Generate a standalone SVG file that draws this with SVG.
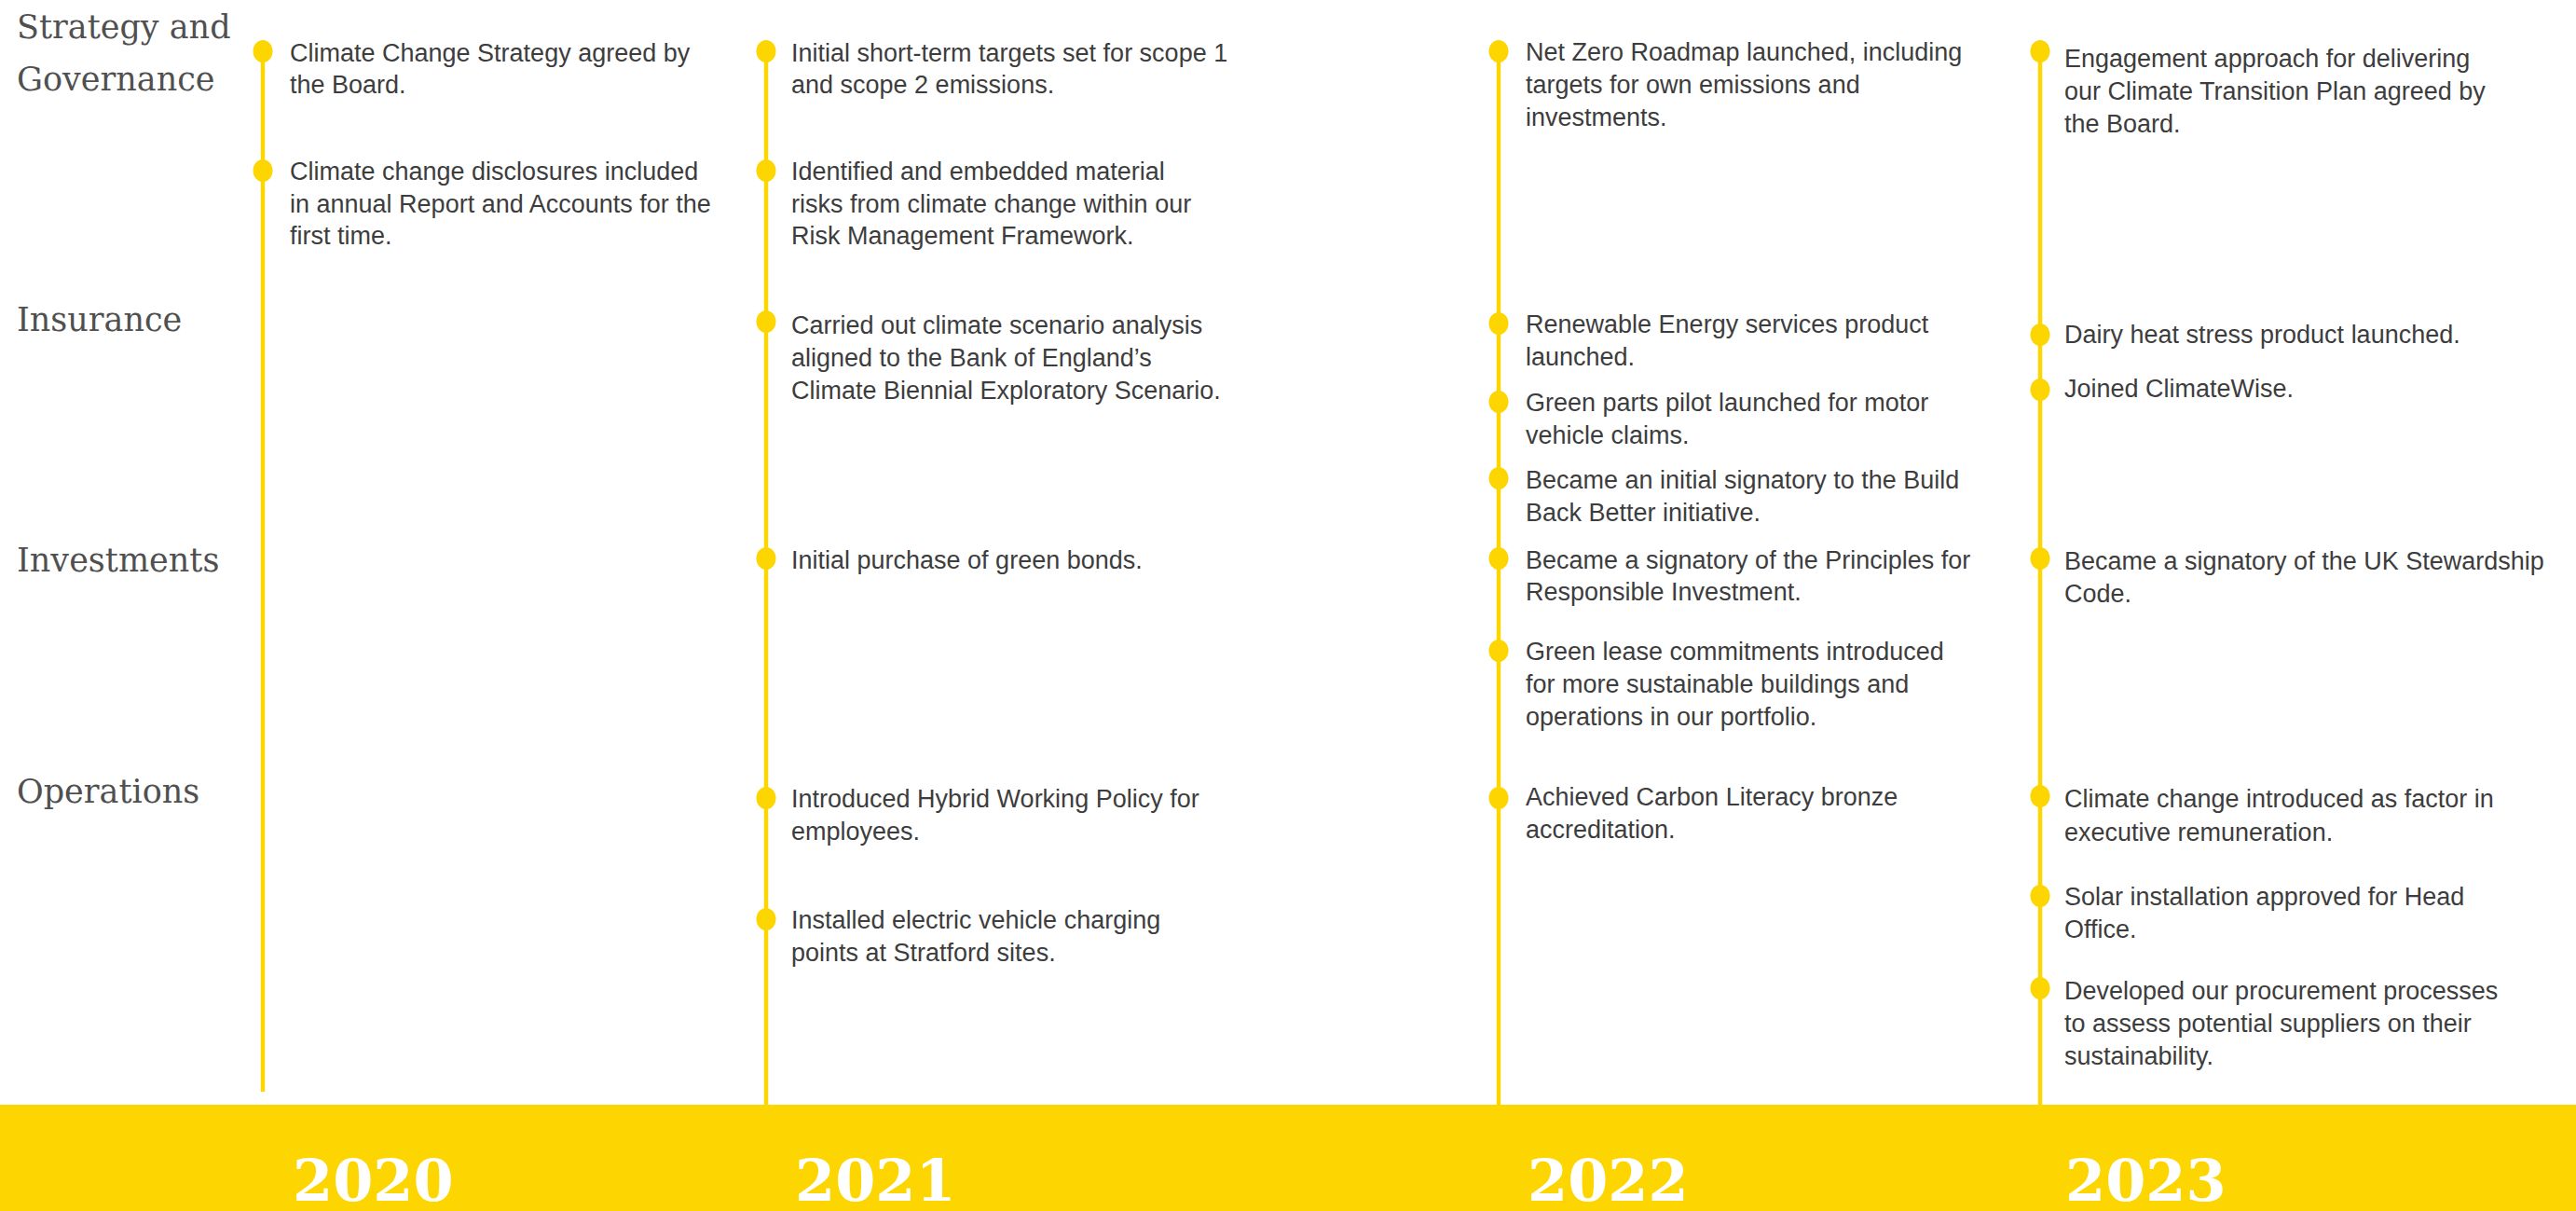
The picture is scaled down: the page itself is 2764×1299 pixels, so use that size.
<svg xmlns="http://www.w3.org/2000/svg" width="2764" height="1299" viewBox="0 0 2764 1299">
<style>
.lbl{font-family:"DejaVu Serif","Liberation Serif",serif;font-size:35px;fill:#505050}
.t{font-family:"Liberation Sans",Arial,sans-serif;font-size:27px;fill:#3d3d3d}
.yr{font-family:"DejaVu Serif","Liberation Serif",serif;font-size:62px;font-weight:bold;fill:#ffffff}
.dot{fill:#FDD500}
.ln{stroke:#FDD500;stroke-width:4.5;fill:none}
</style>
<rect width="2764" height="1299" fill="#ffffff"/>
<rect id="band" x="0" y="1185" width="2764" height="114" fill="#FDD500"/>
<g id="connectors">
<line class="ln" x1="282" y1="45" x2="282" y2="1171"/>
<line class="ln" x1="822" y1="45" x2="822" y2="1185"/>
<line class="ln" x1="1608" y1="45" x2="1608" y2="1185"/>
<line class="ln" x1="2189" y1="45" x2="2189" y2="1185"/>
</g>
<g id="row-labels">
<text class="lbl" x="18" y="41">Strategy and</text>
<text class="lbl" x="18" y="97">Governance</text>
<text class="lbl" x="18" y="355">Insurance</text>
<text class="lbl" x="18" y="613">Investments</text>
<text class="lbl" x="18" y="861">Operations</text>
</g>
<g id="years">
<text class="yr" x="314" y="1288">2020</text>
<text class="yr" x="853" y="1288">2021</text>
<text class="yr" x="1639" y="1288">2022</text>
<text class="yr" x="2216" y="1288">2023</text>
</g>
<g id="e2020-1"><ellipse class="dot" cx="282" cy="55" rx="10.5" ry="12"/><text class="t"><tspan x="311" y="66">Climate Change Strategy agreed by</tspan><tspan x="311" y="100">the Board.</tspan></text></g>
<g id="e2020-2"><ellipse class="dot" cx="282" cy="183" rx="10.5" ry="12"/><text class="t"><tspan x="311" y="193">Climate change disclosures included</tspan><tspan x="311" y="228">in annual Report and Accounts for the</tspan><tspan x="311" y="262">first time.</tspan></text></g>
<g id="e2021-1"><ellipse class="dot" cx="822" cy="55" rx="10.5" ry="12"/><text class="t"><tspan x="849" y="66">Initial short-term targets set for scope 1</tspan><tspan x="849" y="100">and scope 2 emissions.</tspan></text></g>
<g id="e2021-2"><ellipse class="dot" cx="822" cy="183" rx="10.5" ry="12"/><text class="t"><tspan x="849" y="193">Identified and embedded material</tspan><tspan x="849" y="228">risks from climate change within our</tspan><tspan x="849" y="262">Risk Management Framework.</tspan></text></g>
<g id="e2021-3"><ellipse class="dot" cx="822" cy="345" rx="10.5" ry="12"/><text class="t"><tspan x="849" y="358">Carried out climate scenario analysis</tspan><tspan x="849" y="393">aligned to the Bank of England’s</tspan><tspan x="849" y="428">Climate Biennial Exploratory Scenario.</tspan></text></g>
<g id="e2021-4"><ellipse class="dot" cx="822" cy="599" rx="10.5" ry="12"/><text class="t"><tspan x="849" y="610">Initial purchase of green bonds.</tspan></text></g>
<g id="e2021-5"><ellipse class="dot" cx="822" cy="856" rx="10.5" ry="12"/><text class="t"><tspan x="849" y="866">Introduced Hybrid Working Policy for</tspan><tspan x="849" y="901">employees.</tspan></text></g>
<g id="e2021-6"><ellipse class="dot" cx="822" cy="986" rx="10.5" ry="12"/><text class="t"><tspan x="849" y="996">Installed electric vehicle charging</tspan><tspan x="849" y="1031">points at Stratford sites.</tspan></text></g>
<g id="e2022-1"><ellipse class="dot" cx="1608" cy="55" rx="10.5" ry="12"/><text class="t"><tspan x="1637" y="65">Net Zero Roadmap launched, including</tspan><tspan x="1637" y="100">targets for own emissions and</tspan><tspan x="1637" y="135">investments.</tspan></text></g>
<g id="e2022-2"><ellipse class="dot" cx="1608" cy="347" rx="10.5" ry="12"/><text class="t"><tspan x="1637" y="357">Renewable Energy services product</tspan><tspan x="1637" y="392">launched.</tspan></text></g>
<g id="e2022-3"><ellipse class="dot" cx="1608" cy="431" rx="10.5" ry="12"/><text class="t"><tspan x="1637" y="441">Green parts pilot launched for motor</tspan><tspan x="1637" y="476">vehicle claims.</tspan></text></g>
<g id="e2022-4"><ellipse class="dot" cx="1608" cy="513" rx="10.5" ry="12"/><text class="t"><tspan x="1637" y="524">Became an initial signatory to the Build</tspan><tspan x="1637" y="559">Back Better initiative.</tspan></text></g>
<g id="e2022-5"><ellipse class="dot" cx="1608" cy="599" rx="10.5" ry="12"/><text class="t"><tspan x="1637" y="610">Became a signatory of the Principles for</tspan><tspan x="1637" y="644">Responsible Investment.</tspan></text></g>
<g id="e2022-6"><ellipse class="dot" cx="1608" cy="698" rx="10.5" ry="12"/><text class="t"><tspan x="1637" y="708">Green lease commitments introduced</tspan><tspan x="1637" y="743">for more sustainable buildings and</tspan><tspan x="1637" y="778">operations in our portfolio.</tspan></text></g>
<g id="e2022-7"><ellipse class="dot" cx="1608" cy="856" rx="10.5" ry="12"/><text class="t"><tspan x="1637" y="864">Achieved Carbon Literacy bronze</tspan><tspan x="1637" y="899">accreditation.</tspan></text></g>
<g id="e2023-1"><ellipse class="dot" cx="2189" cy="55" rx="10.5" ry="12"/><text class="t"><tspan x="2215" y="72">Engagement approach for delivering</tspan><tspan x="2215" y="107">our Climate Transition Plan agreed by</tspan><tspan x="2215" y="142">the Board.</tspan></text></g>
<g id="e2023-2"><ellipse class="dot" cx="2189" cy="359" rx="10.5" ry="12"/><text class="t"><tspan x="2215" y="368">Dairy heat stress product launched.</tspan></text></g>
<g id="e2023-3"><ellipse class="dot" cx="2189" cy="418" rx="10.5" ry="12"/><text class="t"><tspan x="2215" y="426">Joined ClimateWise.</tspan></text></g>
<g id="e2023-4"><ellipse class="dot" cx="2189" cy="599" rx="10.5" ry="12"/><text class="t"><tspan x="2215" y="611">Became a signatory of the UK Stewardship</tspan><tspan x="2215" y="646">Code.</tspan></text></g>
<g id="e2023-5"><ellipse class="dot" cx="2189" cy="854" rx="10.5" ry="12"/><text class="t"><tspan x="2215" y="866">Climate change introduced as factor in</tspan><tspan x="2215" y="902">executive remuneration.</tspan></text></g>
<g id="e2023-6"><ellipse class="dot" cx="2189" cy="961" rx="10.5" ry="12"/><text class="t"><tspan x="2215" y="971">Solar installation approved for Head</tspan><tspan x="2215" y="1006">Office.</tspan></text></g>
<g id="e2023-7"><ellipse class="dot" cx="2189" cy="1060" rx="10.5" ry="12"/><text class="t"><tspan x="2215" y="1072">Developed our procurement processes</tspan><tspan x="2215" y="1107">to assess potential suppliers on their</tspan><tspan x="2215" y="1142">sustainability.</tspan></text></g>
</svg>
